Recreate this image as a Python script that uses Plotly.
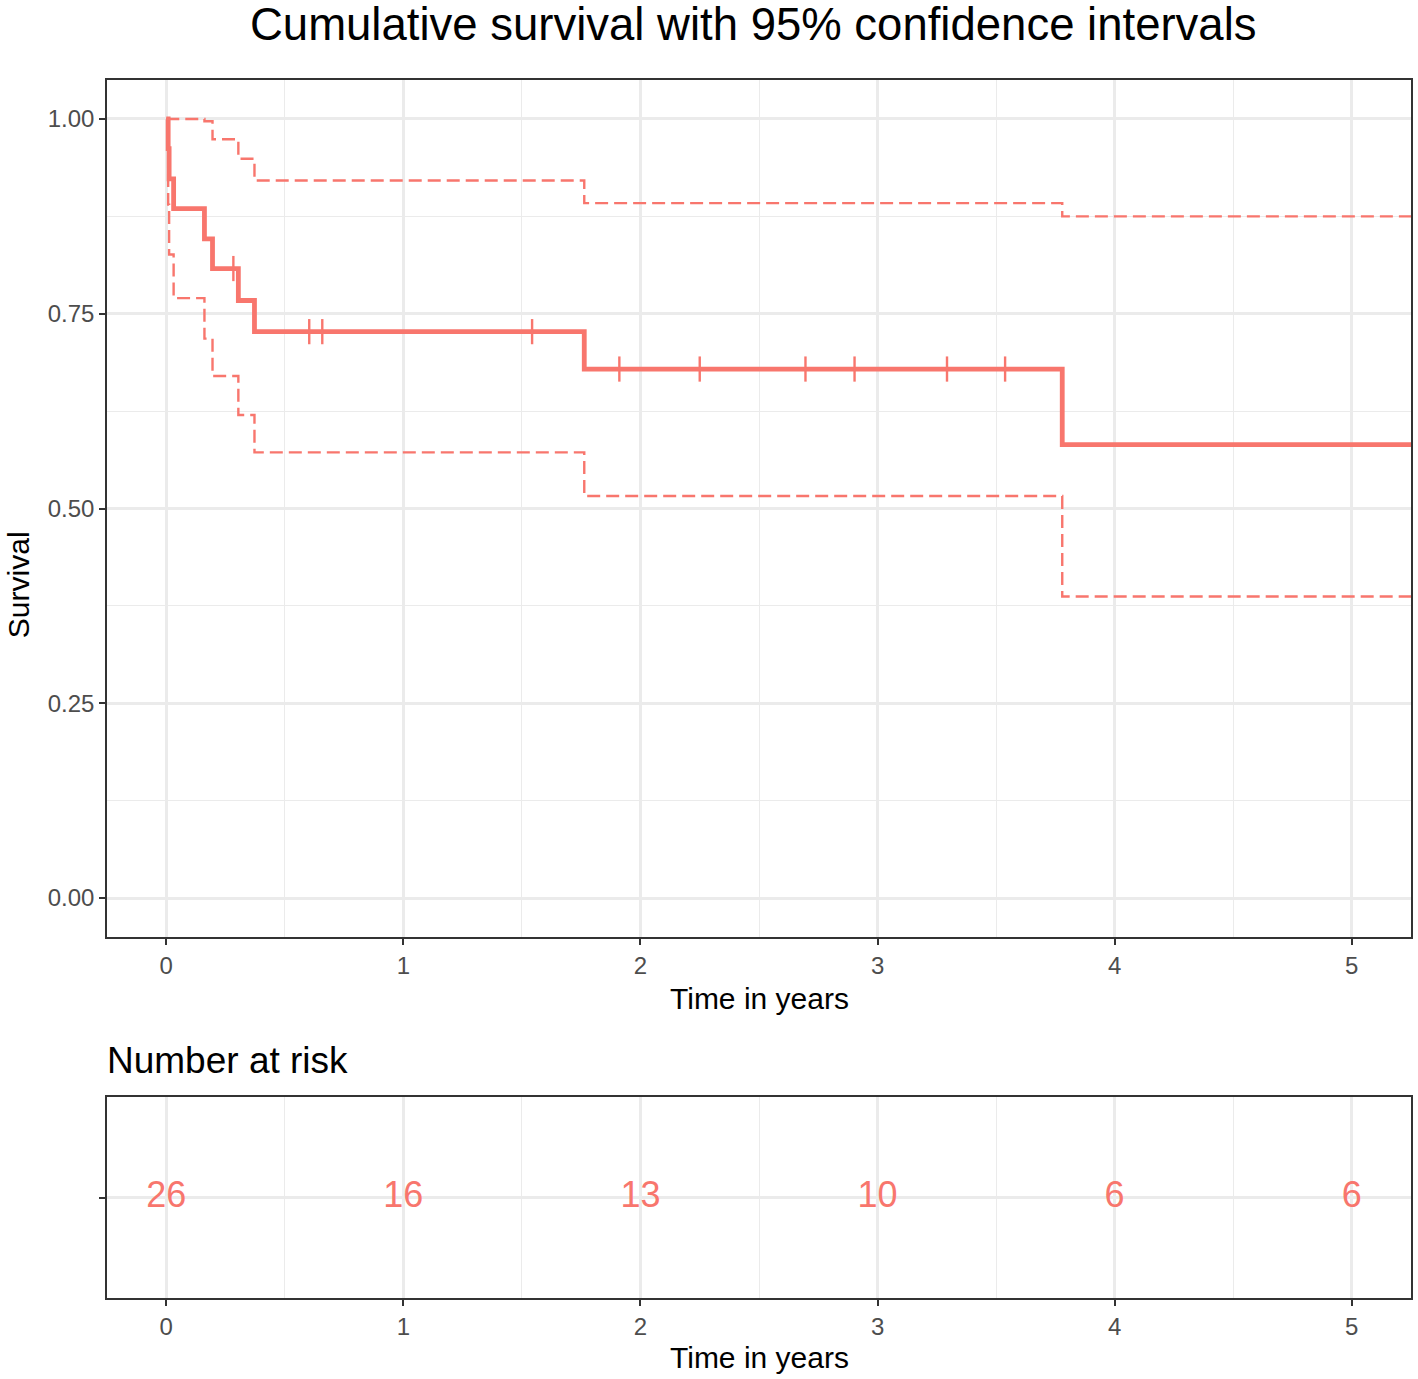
import plotly.graph_objects as go

# Kaplan-Meier step data
km_time = [0.0, 0.008, 0.012, 0.031, 0.161, 0.195, 0.304, 0.372, 1.763, 3.779, 5.6]
km_surv = [1.0, 0.962, 0.923, 0.885, 0.846, 0.808, 0.767, 0.727, 0.679, 0.582, 0.582]
ci_upper = [1.0, 1.0, 1.0, 1.0, 0.997, 0.974, 0.949, 0.921, 0.892, 0.875, 0.875]
ci_lower = [1.0, 0.890, 0.826, 0.770, 0.718, 0.670, 0.620, 0.572, 0.516, 0.387, 0.387]

censor_time = [0.283, 0.603, 0.658, 1.543, 1.911, 2.250, 2.696, 2.903, 3.293, 3.538]
censor_surv = [0.808, 0.727, 0.727, 0.727, 0.679, 0.679, 0.679, 0.679, 0.679, 0.679]

risk_time = [0, 1, 2, 3, 4, 5]
risk_n = [26, 16, 13, 10, 6, 6]

COL = "#F8766D"
FONT = "Liberation Sans, Arial, sans-serif"
W, H = 1418, 1379
ML, MR, MT, MB = 107, 5, 80, 81
PH = H - MT - MB


def py(p):
    return (H - MB - p) / PH


def px(p):
    return (p - ML) / (W - ML - MR)


fig = go.Figure()
fig.add_trace(go.Scatter(x=km_time, y=ci_upper, mode="lines", line_shape="hv",
                         line=dict(color=COL, width=2.4, dash="13px,6px"),
                         xaxis="x", yaxis="y", showlegend=False, hoverinfo="skip"))
fig.add_trace(go.Scatter(x=km_time, y=ci_lower, mode="lines", line_shape="hv",
                         line=dict(color=COL, width=2.4, dash="13px,6px"),
                         xaxis="x", yaxis="y", showlegend=False, hoverinfo="skip"))
fig.add_trace(go.Scatter(x=km_time, y=km_surv, mode="lines", line_shape="hv",
                         line=dict(color=COL, width=4.8),
                         xaxis="x", yaxis="y", showlegend=False))
fig.add_trace(go.Scatter(x=censor_time, y=censor_surv, mode="markers",
                         marker=dict(symbol="line-ns", size=18,
                                     line=dict(color=COL, width=2.4)),
                         xaxis="x", yaxis="y", showlegend=False))
fig.add_trace(go.Scatter(x=risk_time, y=[0] * len(risk_time), mode="text",
                         text=[str(v) for v in risk_n],
                         textfont=dict(family=FONT, size=36, color=COL),
                         xaxis="x2", yaxis="y2", showlegend=False))

axis_common = dict(showline=True, mirror=True, linecolor="#333333", linewidth=1.6,
                   ticks="outside", ticklen=6, tickwidth=2, tickcolor="#333333",
                   gridcolor="#EBEBEB", gridwidth=2.6, zeroline=False,
                   tickfont=dict(family=FONT, size=24, color="#4D4D4D"))

main_dom = [py(937), 1.0]
risk_dom = [0.0, py(1097)]

fig.update_layout(
    width=W, height=H,
    margin=dict(l=ML, r=MR, t=MT, b=MB),
    paper_bgcolor="white", plot_bgcolor="white",
    xaxis=dict(domain=[0, 1], anchor="y", range=[-0.25, 5.25], tickvals=[0, 1, 2, 3, 4, 5],
               minor=dict(tickvals=[0.5, 1.5, 2.5, 3.5, 4.5], showgrid=True,
                          gridcolor="#EBEBEB", gridwidth=1.3, ticks=""),
               **axis_common),
    yaxis=dict(domain=main_dom, anchor="x", range=[-0.05, 1.05],
               tickvals=[0, 0.25, 0.5, 0.75, 1.0], ticktext=["0.00", "0.25", "0.50", "0.75", "1.00"],
               minor=dict(tickvals=[0.125, 0.375, 0.625, 0.875], showgrid=True,
                          gridcolor="#EBEBEB", gridwidth=1.3, ticks=""),
               **axis_common),
    xaxis2=dict(domain=[0, 1], anchor="y2", range=[-0.25, 5.25], tickvals=[0, 1, 2, 3, 4, 5],
                minor=dict(tickvals=[0.5, 1.5, 2.5, 3.5, 4.5], showgrid=True,
                           gridcolor="#EBEBEB", gridwidth=1.3, ticks=""),
                **axis_common),
    yaxis2=dict(domain=risk_dom, anchor="x2", range=[-1, 1], tickvals=[0], ticktext=[""],
                **axis_common),
    annotations=[
        dict(text="Cumulative survival with 95% confidence intervals", xref="paper", yref="paper",
             x=px(754), y=py(24), xanchor="center", yanchor="middle", showarrow=False,
             font=dict(family=FONT, size=45.5, color="black")),
        dict(text="Time in years", xref="paper", yref="paper", x=px(760), y=py(998),
             xanchor="center", yanchor="middle", showarrow=False,
             font=dict(family=FONT, size=30, color="black")),
        dict(text="Survival", xref="paper", yref="paper", x=px(18), y=py(585),
             xanchor="center", yanchor="middle", showarrow=False, textangle=-90,
             font=dict(family=FONT, size=30, color="black")),
        dict(text="Number at risk", xref="paper", yref="paper", x=px(105), y=py(1060),
             xanchor="left", yanchor="middle", showarrow=False,
             font=dict(family=FONT, size=37, color="black")),
        dict(text="Time in years", xref="paper", yref="paper", x=px(760), y=py(1357),
             xanchor="center", yanchor="middle", showarrow=False,
             font=dict(family=FONT, size=30, color="black")),
    ],
)

fig.write_html("out.html", config={"displayModeBar": False},
               post_script="document.body.style.margin='0';document.body.style.overflow='hidden';")
